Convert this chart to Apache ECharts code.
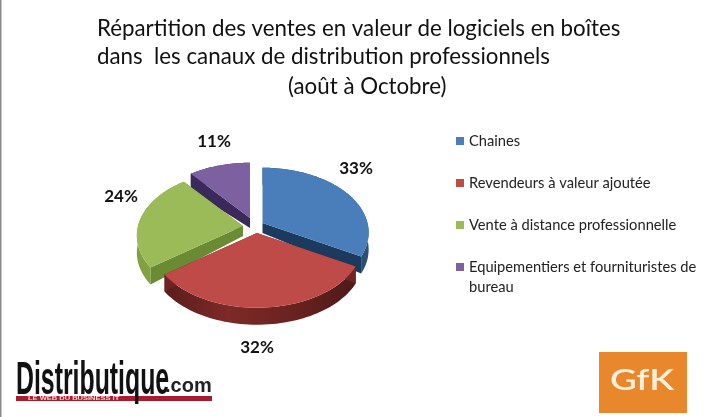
<!DOCTYPE html>
<html><head><meta charset="utf-8">
<style>html,body{margin:0;padding:0;background:#fff}#c{width:704px;height:417px}</style>
<script src="https://cdn.jsdelivr.net/npm/echarts@6/dist/echarts.min.js"></script>
</head><body><div id="c"></div>
<script>
const categories = ['Chaines','Revendeurs à valeur ajoutée','Vente à distance professionnelle','Equipementiers et fournituristes de bureau'];
const shares = [33,32,24,11];
const titleLines = ['Répartition des ventes en valeur de logiciels en boîtes','dans  les canaux de distribution professionnels','(août à Octobre)'];

const topColors = ['#4a7ebb','#be4b48','#9bbb59','#7d60a0'];
const cutColors = ['#1c3a5e','#6e2422','#6a8a34','#3a2a5c'];
const rimColors = [['#1c3a5e','#2a5078'],['#5a1d1c','#7d2a28','#6a2220','#4e1a19'],['#80a040','#8aa848'],['#3a2a5c','#3a2a5c']];
const apex = [[262.5,223],[257,233],[243,226],[250,218]];
const labelAt = [[356,169],[257,348],[121,197],[214,142]];
const RX=105, RY=65, P=0.15;
const total = shares.reduce((a,b)=>a+b,0);

function proj(c,t,r){
  const u=Math.sin(t)*r, v=-Math.cos(t)*r, s=1+P*v;
  return [c[0]+RX*u*s, c[1]+RY*v*s];
}
function renderSlice(i){
  return function(params,api){
    const before = shares.slice(0,i).reduce((a,b)=>a+b,0);
    const t0 = before/total*2*Math.PI;
    const t1 = t0 + api.value(0)/total*2*Math.PI;
    const c = apex[i], arc=[], N=60;
    for(let k=0;k<=N;k++) arc.push(proj(c,t0+(t1-t0)*k/N,1));
    const D0=10, D1=17;
    const down=(p,d)=>[p[0],p[1]+d];
    const rim = arc.concat(arc.slice().reverse().map(p=>down(p,D1)));
    const stops = rimColors[i].map((col,k,a)=>({offset:k/(a.length-1),color:col}));
    const children=[
      {type:'polygon',shape:{points:rim},style:{fill:{type:'linear',x:0,y:0,x2:1,y2:0,colorStops:stops}}},
      {type:'polygon',shape:{points:[c,arc[0],down(arc[0],D1),down(c,D0)]},style:{fill:cutColors[i]}},
      {type:'polygon',shape:{points:[c,arc[N],down(arc[N],D1),down(c,D0)]},style:{fill:cutColors[i]}},
      {type:'polygon',shape:{points:[c].concat(arc)},style:{fill:api.visual('color')}},
      {type:'text',style:{text:api.value(0)+'%',x:labelAt[i][0],y:labelAt[i][1],align:'center',verticalAlign:'middle',font:'bold 17px Lato, "Open Sans", sans-serif',fill:'#111'}}
    ];
    return {type:'group',children};
  };
}
const paintOrder=[3,2,0,1];
const series=paintOrder.map((i,z)=>({
  type:'custom',name:categories[i],coordinateSystem:'none',
  data:[[shares[i]]],z:2+z,silent:true,animation:false,
  itemStyle:{color:topColors[i]},renderItem:renderSlice(i)
}));
const titleFont={fontFamily:'Lato',fontSize:22.3,fontWeight:'normal',color:'#111'};
const chart=echarts.init(document.getElementById('c'),null,{renderer:'canvas'});
chart.setOption({
  animation:false,backgroundColor:'#fff',
  title:[
    {text:titleLines[0],left:92,top:13,textStyle:titleFont},
    {text:titleLines[1],left:92,top:41,textStyle:titleFont},
    {text:titleLines[2],left:283,top:71,textStyle:titleFont}
  ],
  legend:{
    orient:'vertical',left:451,top:106,selectedMode:false,icon:'rect',itemWidth:8,itemHeight:8,itemGap:-18,
    data:categories,
    formatter:n=>{
      const w=n.split(' ');
      return ' \n'+(n.length>34?w.slice(0,-1).join(' ')+'\n'+w[w.length-1]:n+'\n ');
    },
    textStyle:{fontFamily:'Lato',fontSize:14.7,lineHeight:20,color:'#222'}
  },
  series,
  graphic:[
    {type:'rect',shape:{x:0,y:0,width:1.5,height:417},style:{fill:'#8a8a8a'}},
    {type:'rect',shape:{x:599,y:352,width:88,height:61},style:{fill:'#e8872c'}},
    {type:'text',x:642,y:381,scaleX:1.27,style:{text:'GfK',align:'center',verticalAlign:'middle',font:'600 29px Lato, sans-serif',fill:'#fdf0dd'}},
    {type:'rect',shape:{x:16,y:396,width:196,height:5},style:{fill:'#a81c30'}},
    {type:'text',x:16,y:381,scaleX:0.54,style:{text:'Distributique',verticalAlign:'middle',font:'bold 46px "Liberation Sans", sans-serif',fill:'#111'}},
    {type:'text',x:165,y:386.5,style:{text:'.com',verticalAlign:'middle',font:'bold 20px "Liberation Sans", sans-serif',fill:'#222'}},
    {type:'text',x:28,y:398.5,scaleX:1.5,style:{text:'LE WEB DU BUSINESS IT',verticalAlign:'middle',font:'bold 5px "Liberation Sans", sans-serif',fill:'#f4d8d8'}}
  ]
});
</script></body></html>
